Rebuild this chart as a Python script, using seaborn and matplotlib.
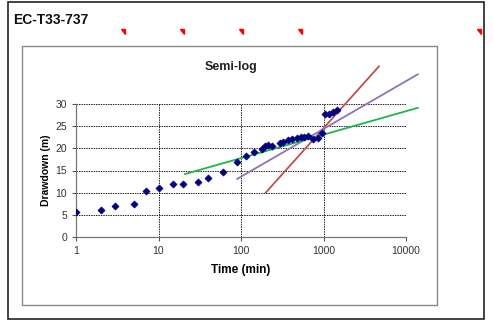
import numpy as np
import pandas as pd
import matplotlib
matplotlib.use("Agg")
import matplotlib.pyplot as plt
from matplotlib.patches import Rectangle, Polygon
import seaborn as sns

# Data
time_min = [1, 2, 3, 5, 7, 10, 15, 20, 30, 40, 60, 90, 115, 145, 178, 196, 215,
            237, 293, 327, 367, 414, 478, 540, 585, 650, 740, 850, 960,
            1040, 1150, 1310, 1440]
drawdown = [5.7, 6.1, 7.0, 7.4, 10.3, 11.1, 12.0, 12.0, 12.4, 13.2, 14.6, 16.9, 18.2, 19.3, 19.9, 20.5, 20.7,
            20.5, 21.2, 21.5, 21.8, 22.1, 22.4, 22.6, 22.7, 22.8, 22.2, 22.4, 23.5,
            27.7, 27.9, 28.3, 28.8]

# Straight-line fits (end points)
red_t = [200, 4700]
red_s = [10.0, 38.6]
purple_t = [90, 13900]
purple_s = [13.1, 36.8]
green_t = [21, 13900]
green_s = [14.2, 29.2]

x_ticks = [1, 10, 100, 1000, 10000]
y_ticks = [0, 5, 10, 15, 20, 25, 30]

plt.rcParams["font.family"] = ["Liberation Sans", "DejaVu Sans"]

W, H = 494, 322
fig = plt.figure(figsize=(W / 100, H / 100), dpi=100)

def px(x, y):
    return (x / W, 1 - y / H)

# outer sheet frame and chart frame
fig.add_artist(Rectangle(px(8, 319), 476 / W, 317 / H, fill=False, ec="#222222", lw=1.2))
fig.add_artist(Rectangle(px(22, 305), 415 / W, 259 / H, fill=False, ec="#888888", lw=1.0))
fig.text(*px(13, 20), "EC-T33-737", fontsize=10, fontweight="bold", ha="left", va="center", color="#111111")

# comment markers
for cx in [125, 184, 243, 302, 481]:
    tri = Polygon([px(cx - 4, 29), px(cx, 29), px(cx, 34)], closed=True, color="red")
    fig.add_artist(tri)

ax = fig.add_axes([76 / W, 1 - 236.7 / H, 330 / W, 132.4 / H])

pts = pd.DataFrame({"t": time_min, "s": drawdown})
sns.scatterplot(data=pts, x="t", y="s", marker="D", s=13, color="#000080",
                edgecolor="#000080", linewidth=0.5, ax=ax, zorder=4)

for tt, ss, col in [(red_t, red_s, "#c0504d"), (purple_t, purple_s, "#8e72b8"),
                    (green_t, green_s, "#1db54a")]:
    sns.lineplot(x=tt, y=ss, color=col, lw=1.3, ax=ax, clip_on=False, zorder=3)

ax.set_xscale("log")
ax.set_xlim(1, 10000)
ax.set_ylim(0, 30)
ax.set_xticks(x_ticks)
ax.set_xticklabels([str(v) for v in x_ticks])
ax.set_yticks(y_ticks)
ax.xaxis.set_minor_locator(matplotlib.ticker.NullLocator())
ax.tick_params(labelsize=7.5, colors="#555555", length=3, width=0.8, direction="out")
ax.tick_params(axis="both", labelcolor="#333333")

ax.grid(True, color="#222222", linestyle=(0, (1.5, 1)), linewidth=0.7)
ax.set_axisbelow(True)
for side in ["top", "right"]:
    ax.spines[side].set_visible(False)
for side in ["left", "bottom"]:
    ax.spines[side].set_color("#777777")
    ax.spines[side].set_linewidth(0.9)

ax.set_xlabel("Time (min)", fontsize=8.5, fontweight="bold", labelpad=6)
ax.set_ylabel("Drawdown (m)", fontsize=7.5, fontweight="bold", labelpad=3)
fig.text(*px(231, 67), "Semi-log", fontsize=9, fontweight="bold", ha="center", va="center",
         color="#222222")

fig.savefig("out.png", dpi=100)
